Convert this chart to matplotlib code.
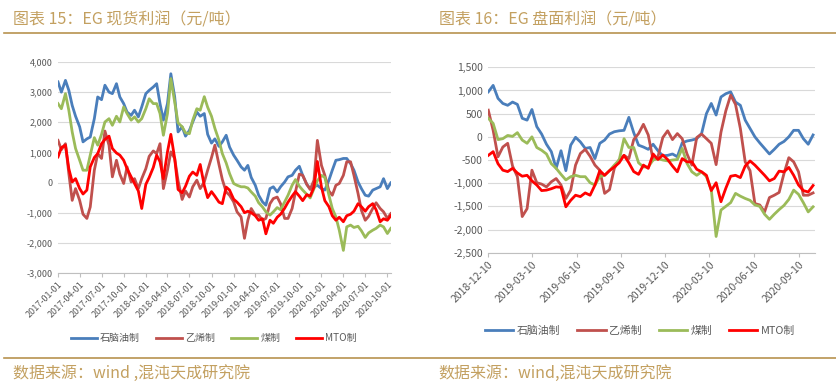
import pandas as pd
import matplotlib
matplotlib.use('Agg')
import matplotlib.pyplot as plt
from matplotlib.lines import Line2D
from matplotlib.ticker import FuncFormatter

plt.rcParams['font.family'] = ['Noto Sans CJK SC', 'DejaVu Sans']

# ---- left chart: EG spot profit, semi-monthly readings 2017-01 .. 2020-10
spot_dates = pd.date_range('2017-01-01', periods=92, freq='SMS')
spot_naphtha = [3340, 3000, 3390, 3060, 2560, 2200, 1850, 1350, 1450, 1510,
                2120, 2840, 2750, 3230, 3000, 2950, 3280, 2840, 2620, 2340,
                2230, 2400, 2180, 2510, 2950, 3060, 3170, 3280, 2620, 2070,
                2620, 3610, 2840, 1680, 1850, 1540, 1730, 2010, 2340, 2200,
                2290, 1600, 1310, 1450,
                1200, 1350, 1570, 1180, 910, 740, 520, 410, 570, 170,
                -90, -420, -640, -750, -200, -140, -310, -140, 20, 190,
                240, 410, 540, 240, -60, -200, -140, -90, -200, -250,
                80, 410, 740, 760, 800, 800, 630, 410, 20, -200,
                -420, -450, -250, -200, -140, 130, -200, -10]
spot_ethylene = [1400, 1090, 1290, 300, -590, -200, -590, -1050, -1190, -810,
                 410, 960, 800, 1710, 1240, 190, 740, 280, -30, 520,
                 20, 130, -200, 130, 460, 870, 1050, 960, 1290, -200,
                 410, 1020, 800, 60, -560, -280, -480, -140, 80, -200,
                 20, 410, 830, 1240,
                 600, 100, -310, -420, -640, -970, -1140, -1850, -1250, -860,
                 -1080, -1080, -1250, -1190, -700, -530, -480, -700, -1190, -1190,
                 -860, -310, 280, 240, -60, -230, 80, 1400, 570, 240,
                 -280, -420, -90, -30, 240, 690, 690, 240, -360, -920,
                 -1250, -1120, -860, -670, -860, -970, -1190, -1030]
spot_coal = [2620, 2450, 2950, 2400, 1680, 1130, 740, 410, 410, 910,
             1490, 1240, 1600, 2010, 2120, 1900, 2200, 2010, 2510, 2290,
             2070, 2180, 2010, 2120, 2450, 2780, 2620, 2620, 2290, 1570,
             2290, 3450, 2670, 1980, 1850, 1650, 1620, 2070, 2450, 2400,
             2850, 2500, 2200, 1800,
             1400, 960, 650, 300, -30, -90, -140, -140, -180, -310,
             -450, -670, -810, -970, -1080, -970, -830, -900, -640, -420,
             -90, 100, -120, -250, -390, -510, -200, 60, 240, 170,
             -420, -860, -1140, -1580, -2250, -1470, -1410, -1490, -1450, -1600,
             -1820, -1670, -1580, -1520, -1410, -1470, -1690, -1520]
spot_mto = [850, 1160, 1240, 460, 20, 130, -200, -380, -250, 520,
            830, 960, 1290, 1430, 1540, 1130, 980, 910, 740, 460,
            190, -30, -280, -860, -60, 170, 500, 910, 690, 130,
            1020, 1600, 800, -230, -340, -120, 210, 350, 240, 600,
            -100, -500, -300, -450,
            -650, -700, -150, -250, -550, -650, -800, -1000, -950, -1000,
            -1100, -1250, -1200, -1700, -1250, -1350, -1150, -1050, -850, -650,
            -450, -300, -450, -600, -400, -450, -150, 700, -150, -600,
            -800, -1100, -1250, -1150, -1300, -1100, -1050, -950, -700, -800,
            -950, -800, -700, -900, -1300, -1200, -1250, -1100]

# ---- right chart: EG futures profit, 10-day readings 2018-12-10 .. 2020-10
fut_dates = pd.date_range('2018-12-10', periods=68, freq='10D')
fut_naphtha = [970, 1110, 830, 720, 680, 750, 700, 400, 360, 590,
               220, 60, -160, -320, -680, -300, -730, -180, -10, -110,
               -250, -230, -470, -140, -70, 60, 110, 130, 140, 420,
               90, -180, -220, -270,
               -160, -300, -410, -400, -370, -430, -130, -90, -70, -40,
               70, 500, 720, 470, 860, 930, 970, 750, 680, 360,
               180, 0, -130, -250, -370, -270, -160, -100, 0, 140,
               140, -40, -160, 40]
fut_ethylene = [575, 140, -430, -220, -140, -630, -860, -1720, -1550, -720,
                -990, -1020, -1080, -970, -900, -1040, -1330, -1150, -610, -360,
                -270, -420, -610, -720, -1220, -1140, -680, -490, -400, -470,
                -60, 70, 270, 40,
                -500, -430, -15, 130, -60, 70, -40, -370, -610, -15,
                60, -40, -140, -600, 100, 560, 900, 700, 180, -540,
                -730, -1440, -1470, -1620, -1310, -1260, -1200, -790, -450, -540,
                -755, -1260, -1260, -1210]
fut_coal = [400, 290, -60, -40, 30, 10, 90, -70, -140, 0,
            -230, -290, -370, -580, -680, -810, -930, -860, -830, -860,
            -860, -990, -1040, -860, -830, -730, -610, -500, -40, -230,
            -230, -560, -650, -650,
            -500, -470, -500, -520, -500, -490, -250, -575, -755, -830,
            -755, -860, -1140, -2150, -1580, -1500, -1420, -1220, -1280, -1330,
            -1370, -1470, -1500, -1670, -1780, -1670, -1570, -1480, -1350, -1150,
            -1240, -1420, -1620, -1510]
fut_mto = [-400, -320, -580, -720, -750, -680, -780, -850, -830, -950,
           -1040, -1160, -1150, -1120, -1080, -1090, -1510, -1370, -1260, -1290,
           -1210, -1260, -1040, -730, -830, -730, -650, -560, -400, -560,
           -750, -810, -610, -680,
           -370, -490, -390, -490, -630, -755, -470, -540, -540, -700,
           -755, -830, -1160, -990, -1400, -1110, -850, -830, -880, -630,
           -520, -610, -720, -830, -950, -900, -740, -755, -660, -830,
           -1040, -1160, -1190, -1050]

labels = ['石脑油制', '乙烯制', '煤制', 'MTO制']
colors = ['#4a7ebb', '#c0504d', '#9bbb59', '#ff0000']
gold = '#b8924f'
text_gold = '#c3a060'

W, H = 837, 388
fig = plt.figure(figsize=(W / 100, H / 100), dpi=100)


def style(ax, size):
    for s in ['left', 'right', 'top']:
        ax.spines[s].set_visible(False)
    ax.spines['bottom'].set_color('#bfbfbf')
    ax.grid(axis='y', color='#d9d9d9', lw=0.8)
    ax.set_axisbelow(True)
    ax.yaxis.set_major_formatter(FuncFormatter(lambda v, p: f'{v:,.0f}'))
    ax.tick_params(axis='y', length=0, labelcolor='#595959', labelsize=size, pad=4)
    ax.tick_params(axis='x', length=3, color='#bfbfbf', labelcolor='#595959',
                   labelsize=size, pad=2)


# left
ax1 = fig.add_axes([58 / W, 1 - 273 / H, 333 / W, 211 / H])
for vals, lab, c in zip([spot_naphtha, spot_ethylene, spot_coal, spot_mto], labels, colors):
    ax1.plot(spot_dates, vals, color=c, lw=2.0, label=lab)
ax1.set_ylim(-3000, 4000)
ax1.set_yticks(range(-3000, 4001, 1000))
ax1.set_xlim(pd.Timestamp('2017-01-01'), pd.Timestamp('2020-10-16'))
t1 = pd.date_range('2017-01-01', '2020-10-01', freq='QS')
ax1.set_xticks(t1)
ax1.set_xticklabels([d.strftime('%Y-%m-%d') for d in t1], rotation=45,
                    ha='right', va='top', rotation_mode='anchor')
style(ax1, 6.5)
ax1.legend(loc='center', bbox_to_anchor=(214 / W, 1 - 338 / H), bbox_transform=fig.transFigure,
           ncol=4, frameon=False, fontsize=7.2, handlelength=2.6, columnspacing=1.6,
           handletextpad=0.3, labelcolor='#595959')

# right
ax2 = fig.add_axes([488.3 / W, 1 - 252.7 / H, 326.7 / W, 185.4 / H])
for vals, lab, c in zip([fut_naphtha, fut_ethylene, fut_coal, fut_mto], labels, colors):
    ax2.plot(fut_dates, vals, color=c, lw=2.0, label=lab)
ax2.set_ylim(-2500, 1500)
ax2.set_yticks(range(-2500, 1501, 500))
ax2.set_xlim(pd.Timestamp('2018-12-10'), pd.Timestamp('2020-10-14'))
t2 = pd.date_range('2018-12-10', periods=8, freq=pd.DateOffset(months=3))
ax2.set_xticks(t2)
ax2.set_xticklabels([d.strftime('%Y-%m-%d') for d in t2], rotation=45,
                    ha='right', va='top', rotation_mode='anchor')
style(ax2, 7.5)
ax2.legend(loc='center', bbox_to_anchor=(640 / W, 1 - 331 / H), bbox_transform=fig.transFigure,
           ncol=4, frameon=False, fontsize=7.8, handlelength=2.6, columnspacing=1.6,
           handletextpad=0.3, labelcolor='#595959')

# headers and footers
fig.text(13 / W, 1 - 20 / H, '图表 15：EG 现货利润（元/吨）', color=text_gold, fontsize=11.5, va='center')
fig.text(439 / W, 1 - 20 / H, '图表 16：EG 盘面利润（元/吨）', color=text_gold, fontsize=11.5, va='center')
fig.add_artist(Line2D([4 / W, 1], [1 - 32.5 / H] * 2, color=gold, lw=1.2))
fig.add_artist(Line2D([4 / W, 1], [1 - 357.7 / H] * 2, color=gold, lw=1.2))
fig.text(13 / W, 1 - 373 / H, '数据来源：wind ,混沌天成研究院', color=text_gold, fontsize=11.5, va='center')
fig.text(438 / W, 1 - 373 / H, '数据来源：wind,混沌天成研究院', color=text_gold, fontsize=11.5, va='center')

fig.savefig('out.png', dpi=100)
